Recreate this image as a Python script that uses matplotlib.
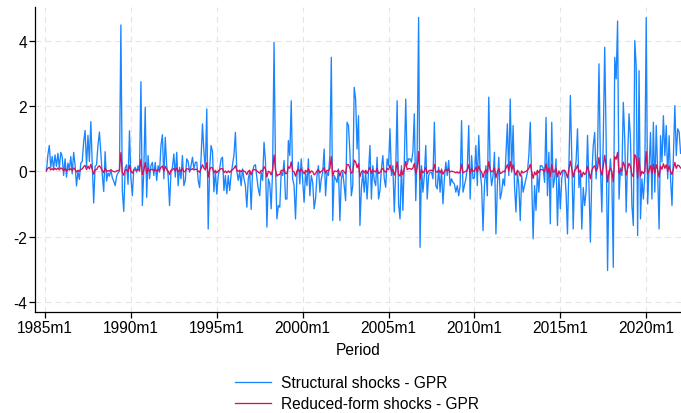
import matplotlib
matplotlib.use("Agg")
import matplotlib.pyplot as plt
import numpy as np

plt.rcParams['font.family'] = ['Liberation Sans', 'DejaVu Sans']

# Monthly observations from 1985m2 to 2022m1
start_year, start_month = 1985, 2

structural = [
    0.0, 0.5, 0.79, 0.12, 0.45, 0.05, 0.5, 0.15, 0.55, 0.1, 0.58,                      # 1985
    0.45, -0.13, 0.38, -0.18, 0.25, 0.05, 0.45, -0.08, 0.58, 0.2, -0.45, 0.0,           # 1986
    -0.25, 0.25, 0.3, 0.9, 1.25, 0.15, 1.1, 0.3, 1.52, 0.2, -0.97, 0.15,                # 1987
    0.2, 0.8, 1.2, 0.55, -0.1, -0.62, 0.6, -0.3, -0.05, -0.15, 0.05, -0.2,              # 1988
    -0.3, -0.44, -0.15, -0.05, 0.0, 4.48, -0.6, -1.23, 0.1, 0.2, -0.4, 1.24,            # 1989
    -0.2, -0.75, 0.05, 0.12, -0.03, 0.17, 0.0, 2.74, -1.05, 0.0, 1.96, -0.8,            # 1990
    0.48, -0.23, 0.17, 0.27, -0.13, 0.27, -0.28, 0.17, -0.03, 0.79, 1.12, -0.23,        # 1991
    1.04, 0.17, -0.13, -1.05, -0.03, 0.12, 0.53, -0.18, 0.58, -0.44, 0.12, -0.23,       # 1992
    0.48, -0.44, -0.28, 0.38, 0.3, -0.03, 0.17, 0.43, 0.07, 0.27, 0.28, -0.28,          # 1993
    -0.5, 0.4, 1.45, 0.6, 0.07, 1.91, -1.77, 0.07, 0.79, 0.6, -0.63, 0.0,               # 1994
    -0.7, -0.13, 0.07, 0.38, 0.43, -0.59, -0.13, -0.69, -0.13, -0.59, -0.1, 0.2,        # 1995
    0.5, 1.19, 0.0, -0.28, 0.0, -0.44, 0.07, -0.23, -0.44, -1.1, -0.23, 0.0,            # 1996
    -1.17, 0.0, 0.17, 0.2, -0.2, -0.54, -0.75, -0.03, -0.28, 0.89, 0.3, -1.71,          # 1997
    -0.23, -0.39, -1.15, 0.07, 3.95, 0.17, -1.46, -1.05, -1.1, -0.03, -0.13, 0.33,      # 1998
    -0.85, -0.85, 0.94, 0.48, 2.16, -0.23, -0.44, -1.46, -0.13, 0.28, -0.39, 0.38,      # 1999
    -0.28, -0.95, -0.03, -0.44, 0.38, -0.75, -0.13, -0.34, -1.15, -0.85, -0.13, 0.17,   # 2000
    -0.64, -0.23, -0.03, 0.68, -0.75, -0.03, -0.13, 0.48, 3.49, -1.51, -0.13, -0.23,    # 2001
    -0.34, 0.07, -1.51, -0.23, -0.03, -0.44, -0.9, 1.5, 1.4, 0.58, -0.75, -0.44,        # 2002
    2.57, 2.2, 0.68, 1.7, -1.66, -0.54, -0.03, -0.64, 0.02, -0.85, -0.03, 0.79,         # 2003
    -0.85, 0.17, -0.28, -0.44, 0.43, -0.85, -0.59, 0.07, 0.48, -0.23, -0.49, 0.38,      # 2004
    0.17, 1.3, -0.13, 0.17, -1.25, 0.02, 2.16, -1.0, -1.46, 0.17, -1.2, 0.3,            # 2005
    2.21, 0.2, 0.38, 0.38, 0.28, 0.6, 1.76, -0.9, 0.63, 4.71, -2.33, 0.17,              # 2006
    -0.64, -0.13, 0.79, -0.85, -0.13, -0.03, -0.03, -0.23, 1.5, -0.44, -0.54, 0.12,     # 2007
    -0.64, 0.07, -1.0, -0.23, 0.28, -0.13, 0.33, -0.44, -0.23, -0.34, -0.39, -0.64,     # 2008
    -0.44, -0.75, -0.44, 1.55, -0.64, -0.44, -0.23, 0.1, 1.4, -0.85, 0.48, -0.23,       # 2009
    -0.2, 0.79, -0.44, 1.1, -0.03, -0.44, -1.82, -0.44, 0.17, -0.75, 2.27, 0.07,        # 2010
    -0.44, -0.13, 0.58, -1.92, -0.44, 0.43, -0.85, -0.64, -0.23, -0.44, 0.48, 1.45,     # 2011
    -0.13, 2.21, -0.03, 1.4, -0.44, -1.25, -0.03, -0.44, -1.51, -0.13, -0.64, -0.44,    # 2012
    -0.23, -0.03, 0.48, 1.5, -0.23, -2.07, -0.44, -1.2, -0.03, -0.64, 0.17, 0.17,       # 2013
    0.1, -0.34, 1.65, -0.75, 0.58, -1.61, 1.5, -0.5, -0.23, 0.38, -1.66, -0.13,         # 2014
    -1.15, -0.23, 0.02, 0.02, -0.64, -1.92, 0.28, 2.32, 0.38, -1.77, -0.03, 0.3,        # 2015
    1.3, -0.5, -0.03, -1.77, -0.5, -1.05, -0.6, 1.1, -0.39, -2.17, -0.1, 0.79,          # 2016
    1.19, -0.23, 0.58, 3.29, 0.17, -1.25, 0.99, 3.8, 0.99, -3.04, -0.2, 0.38,           # 2017
    -0.23, -2.94, 3.49, 2.83, 4.6, -0.85, 0.1, -0.13, 2.11, 0.99, -1.25, 0.4,           # 2018
    1.76, 0.99, -1.05, -1.66, 4.0, 3.23, -1.97, 3.08, -1.46, -0.23, -0.85, -0.13,       # 2019
    4.71, -1.0, 0.07, 1.19, -0.85, 1.5, -0.64, 1.4, -0.03, -1.77, 1.09, 0.28,           # 2020
    1.7, 0.48, 1.4, -0.23, 1.09, -0.23, -1.05, 0.45, 2.01, 0.48, 1.3, 1.2,              # 2021
    0.55,                                                                               # 2022
]

reduced_form = [
    0.03, 0.09, 0.12, 0.04, 0.08, 0.04, 0.09, 0.05, 0.10, 0.04, 0.10,
    0.08, 0.01, 0.08, 0.01, 0.06, 0.04, 0.08, 0.02, 0.10, 0.05, -0.02, 0.03,
    0.00, 0.06, 0.07, 0.14, 0.18, 0.05, 0.16, 0.07, 0.21, 0.05, -0.09, 0.05,
    0.05, 0.13, 0.17, 0.10, 0.02, -0.04, 0.10, -0.01, 0.02, 0.01, 0.04, 0.01,
    -0.01, -0.02, 0.01, 0.02, 0.03, 0.57, -0.04, -0.12, 0.04, 0.05, -0.02, 0.18,
    0.01, -0.06, 0.04, 0.04, 0.03, 0.05, 0.03, 0.36, -0.10, 0.03, 0.27, -0.07,
    0.09, 0.00, 0.05, 0.06, 0.01, 0.06, 0.00, 0.05, 0.03, 0.12, 0.16, 0.00,
    0.15, 0.05, 0.01, -0.10, 0.03, 0.04, 0.09, 0.01, 0.10, -0.02, 0.04, 0.00,
    0.09, -0.02, 0.00, 0.08, 0.07, 0.03, 0.05, 0.08, 0.04, 0.06, 0.06, 0.00,
    -0.03, 0.08, 0.20, 0.10, 0.04, 0.26, -0.18, 0.04, 0.12, 0.10, -0.05, 0.03,
    -0.05, 0.01, 0.04, 0.08, 0.08, -0.04, 0.01, -0.05, 0.01, -0.04, 0.02, 0.05,
    0.09, 0.17, 0.03, 0.00, 0.03, -0.02, 0.04, 0.00, -0.02, -0.10, 0.00, 0.03,
    -0.11, 0.03, 0.05, 0.05, 0.01, -0.03, -0.06, 0.03, 0.00, 0.14, 0.07, -0.18,
    0.00, -0.02, -0.11, 0.04, 0.50, 0.05, -0.15, -0.10, -0.10, 0.03, 0.01, 0.07,
    -0.07, -0.07, 0.14, 0.09, 0.29, 0.00, -0.02, -0.15, 0.01, 0.06, -0.02, 0.08,
    0.00, -0.08, 0.03, -0.02, 0.08, -0.06, 0.01, -0.01, -0.11, -0.07, 0.01, 0.05,
    -0.05, 0.00, 0.03, 0.11, -0.06, 0.03, 0.01, 0.09, 0.45, -0.15, 0.01, 0.00,
    -0.01, 0.04, -0.15, 0.00, 0.03, -0.02, -0.08, 0.21, 0.20, 0.10, -0.06, -0.02,
    0.34, 0.29, 0.11, 0.23, -0.17, -0.03, 0.03, -0.05, 0.03, -0.07, 0.03, 0.12,
    -0.07, 0.05, 0.00, -0.02, 0.08, -0.07, -0.04, 0.04, 0.09, 0.00, -0.03, 0.08,
    0.05, 0.19, 0.01, 0.05, -0.12, 0.03, 0.29, -0.09, -0.15, 0.05, -0.11, 0.07,
    0.30, 0.05, 0.08, 0.08, 0.06, 0.10, 0.24, -0.08, 0.11, 0.60, -0.25, 0.05,
    -0.05, 0.01, 0.12, -0.07, 0.01, 0.03, 0.03, 0.00, 0.21, -0.02, -0.03, 0.04,
    -0.05, 0.04, -0.09, 0.00, 0.06, 0.01, 0.07, -0.02, 0.00, -0.01, -0.02, -0.05,
    -0.02, -0.06, -0.02, 0.22, -0.05, -0.02, 0.00, 0.04, 0.20, -0.07, 0.09, 0.00,
    0.01, 0.12, -0.02, 0.16, 0.03, -0.02, -0.19, -0.02, 0.05, -0.06, 0.30, 0.04,
    -0.02, 0.01, 0.10, -0.20, -0.02, 0.08, -0.07, -0.05, 0.00, -0.02, 0.09, 0.20,
    0.01, 0.30, 0.03, 0.20, -0.02, -0.12, 0.03, -0.02, -0.15, 0.01, -0.05, -0.02,
    0.00, 0.03, 0.09, 0.21, 0.00, -0.22, -0.02, -0.11, 0.03, -0.05, 0.05, 0.05,
    0.04, -0.01, 0.23, -0.06, 0.10, -0.16, 0.21, -0.03, 0.00, 0.08, -0.17, 0.01,
    -0.11, 0.00, 0.03, 0.03, -0.05, -0.20, 0.06, 0.31, 0.08, -0.18, 0.03, 0.07,
    0.19, -0.03, 0.03, -0.18, -0.03, -0.10, -0.04, 0.16, -0.02, -0.23, 0.02, 0.12,
    0.17, 0.00, 0.10, 0.42, 0.05, -0.12, 0.15, 0.49, 0.15, -0.33, 0.01, 0.08,
    0.00, -0.32, 0.45, 0.37, 0.58, -0.07, 0.04, 0.01, 0.28, 0.15, -0.12, 0.08,
    0.24, 0.15, -0.10, -0.17, 0.51, 0.42, -0.21, 0.40, -0.15, 0.00, -0.07, 0.01,
    0.60, -0.09, 0.04, 0.17, -0.07, 0.21, -0.05, 0.20, 0.03, -0.18, 0.16, 0.06,
    0.23, 0.09, 0.20, 0.00, 0.16, 0.00, -0.10, 0.08, 0.27, 0.09, 0.19, 0.17,
    0.10,
]

x_tick_labels = ["1985m1", "1990m1", "1995m1", "2000m1", "2005m1", "2010m1", "2015m1", "2020m1"]
y_ticks = [-4, -2, 0, 2, 4]
series_labels = ["Structural shocks - GPR", "Reduced-form shocks - GPR"]
x_label = "Period"

# months since 1985m1
n = len(structural)
t = np.arange(n) + (start_year - 1985) * 12 + (start_month - 1)
x_tick_pos = [(int(s[:4]) - 1985) * 12 + int(s[5:]) - 1 for s in x_tick_labels]

W, H = 681, 414
fig = plt.figure(figsize=(W / 100, H / 100), dpi=100)
ax = fig.add_axes([35 / W, (H - 313) / H, (W - 35) / W, (313 - 8) / H])

blue = "#1a85ff"
red = "#d41159"
ax.plot(t, structural, color=blue, lw=0.95, label=series_labels[0], zorder=3)
ax.plot(t, reduced_form, color=red, lw=0.95, label=series_labels[1], zorder=4)

ax.set_xlim(-7, 444.3)
ax.set_ylim(-4.31, 5.03)
ax.set_xticks(x_tick_pos)
ax.set_xticklabels(x_tick_labels)
ax.set_yticks(y_ticks)
ax.set_yticklabels([str(v) for v in y_ticks])

ax.grid(True, color="#e4e4e4", linestyle=(0, (5, 4)), linewidth=0.8, zorder=0)
ax.set_axisbelow(True)
for s in ["top", "right"]:
    ax.spines[s].set_visible(False)
for s in ["left", "bottom"]:
    ax.spines[s].set_linewidth(0.9)
    ax.spines[s].set_color("black")
ax.tick_params(axis="both", direction="out", length=4, width=0.9, labelsize=11.2, colors="black", pad=1.5)

ax.set_xlabel(x_label, fontsize=11.2, labelpad=5)

fig.legend(loc="center", bbox_to_anchor=(357 / W, 1 - 394 / H), frameon=False,
           fontsize=11.2, handlelength=2.3, handletextpad=0.6, labelspacing=0.38,
           borderpad=0.0)

fig.savefig("out.png", dpi=100, facecolor="white")
